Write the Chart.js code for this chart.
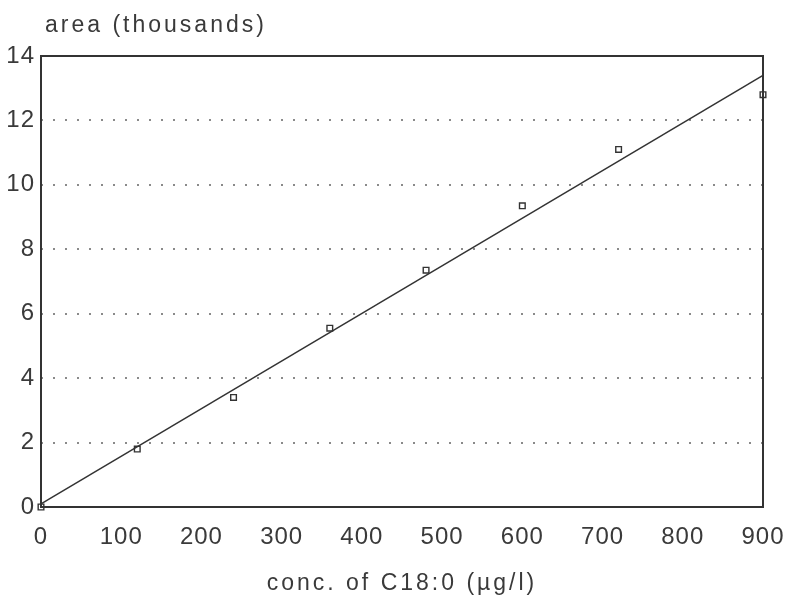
<!DOCTYPE html>
<html>
<head>
<meta charset="utf-8">
<script src="https://cdn.jsdelivr.net/npm/chart.js@4/dist/chart.umd.min.js"></script>
<style>
  html, body { margin: 0; padding: 0; background: #ffffff; }
  #wrap { width: 791px; height: 604px; }
</style>
</head>
<body>
<div id="wrap"><canvas id="c" width="791" height="604"></canvas></div>
<script>
// Calibration standards: concentration of C18:0 (µg/l) vs. peak area (thousands)
const concentrations = [0, 120, 240, 360, 480, 600, 720, 900];
const areas = [0.0, 1.8, 3.4, 5.55, 7.35, 9.35, 11.1, 12.8];

// Fitted regression line end points
const fitX = [0, 900];
const fitY = [0.1, 13.4];

const yTicks = [0, 2, 4, 6, 8, 10, 12, 14];
const xTicks = [0, 100, 200, 300, 400, 500, 600, 700, 800, 900];

const yTitle = 'area (thousands)';
const xTitle = 'conc. of C18:0 (\u00b5g/l)';

const ink = '#3a3a3a';
const fontFamily = '"Liberation Sans", Arial, sans-serif';

const framePlugin = {
  id: 'frame',
  beforeDraw(chart) {
    chart.ctx.letterSpacing = '1px';
  },
  afterDraw(chart) {
    const { ctx, chartArea: a } = chart;
    ctx.save();
    ctx.strokeStyle = '#333';
    ctx.lineWidth = 2;
    ctx.strokeRect(a.left, a.top, a.right - a.left, a.bottom - a.top);
    ctx.fillStyle = ink;
    ctx.letterSpacing = '3px';
    ctx.font = '23px ' + fontFamily;
    ctx.textBaseline = 'alphabetic';
    ctx.textAlign = 'left';
    ctx.fillText(yTitle, 45, 32);
    ctx.textAlign = 'center';
    ctx.fillText(xTitle, 402, 590);
    ctx.restore();
  }
};

new Chart(document.getElementById('c'), {
  type: 'scatter',
  data: {
    datasets: [
      {
        type: 'line',
        data: fitX.map((x, i) => ({ x, y: fitY[i] })),
        borderColor: '#333',
        borderWidth: 1.5,
        pointRadius: 0,
        fill: false,
        clip: false
      },
      {
        data: concentrations.map((x, i) => ({ x, y: areas[i] })),
        pointStyle: 'rect',
        pointRadius: 4,
        pointBorderWidth: 1.4,
        pointBorderColor: '#333',
        pointBackgroundColor: '#ffffff',
        clip: false
      }
    ]
  },
  options: {
    responsive: false,
    animation: false,
    layout: { padding: { left: 0, right: 28, top: 56, bottom: 0 } },
    plugins: { legend: { display: false }, tooltip: { enabled: false }, title: { display: false } },
    scales: {
      x: {
        type: 'linear',
        min: 0, max: 900,
        afterBuildTicks(scale) { scale.ticks = xTicks.map(v => ({ value: v })); },
        afterFit(scale) {
          scale.height = 97;
          scale.paddingLeft = 0;
          scale.paddingRight = 0;
        },
        grid: { display: false, drawTicks: false },
        border: { display: false },
        ticks: { color: ink, font: { family: fontFamily, size: 24 }, padding: 16, maxRotation: 0, autoSkip: false }
      },
      y: {
        type: 'linear',
        min: 0, max: 14,
        afterBuildTicks(scale) { scale.ticks = yTicks.map(v => ({ value: v })); },
        afterFit(scale) {
          scale.width = 41;
          scale.paddingTop = 0;
          scale.paddingBottom = 0;
        },
        grid: {
          drawTicks: false,
          color: ctx => (ctx.tick && (ctx.tick.value === 0 || ctx.tick.value === 14)) ? 'rgba(0,0,0,0)' : '#8a8a8a',
          lineWidth: 2
        },
        border: { display: false, dash: [2, 10] },
        ticks: { color: ink, font: { family: fontFamily, size: 24 }, padding: 6, autoSkip: false }
      }
    }
  },
  plugins: [framePlugin]
});
</script>
</body>
</html>
